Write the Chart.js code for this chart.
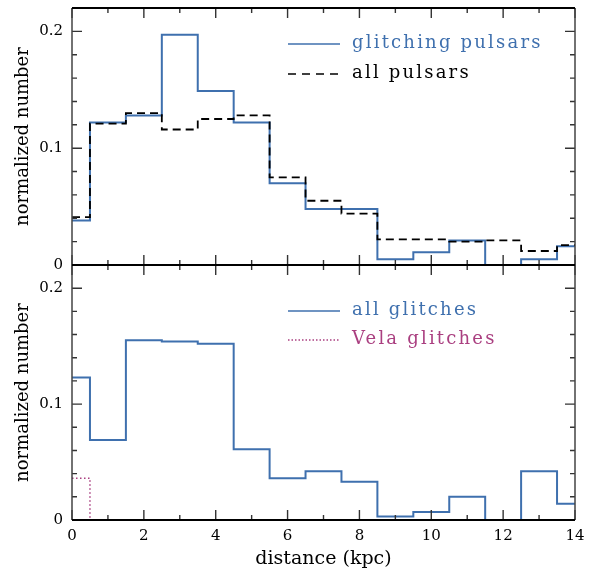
<!DOCTYPE html>
<html>
<head>
<meta charset="utf-8">
<script src="https://cdn.jsdelivr.net/npm/chart.js@4.4.1/dist/chart.umd.min.js"></script>
<style>
html,body{margin:0;padding:0;background:#fff;}
#wrap{position:relative;width:590px;height:570px;}
#topChart{position:absolute;left:0;top:0;}
#bottomChart{position:absolute;left:0;top:260px;}
</style>
</head>
<body>
<div id="wrap">
<canvas id="topChart" width="590" height="275"></canvas>
<canvas id="bottomChart" width="590" height="310"></canvas>
</div>
<script>
// histogram bin edges (kpc)
const binEdges = [0, 0.5, 1.5, 2.5, 3.5, 4.5, 5.5, 6.5, 7.5, 8.5, 9.5, 10.5, 11.5, 12.5, 13.5, 14];

// top panel
const glitchingPulsars = [0.038, 0.122, 0.128, 0.197, 0.149, 0.122, 0.070, 0.048, 0.048, 0.005, 0.011, 0.021, 0, 0.005, 0.016];
const allPulsars = [0.041, 0.121, 0.130, 0.116, 0.125, 0.128, 0.075, 0.055, 0.044, 0.022, 0.022, 0.020, 0.021, 0.012, 0.017];

// bottom panel
const allGlitches = [0.123, 0.069, 0.155, 0.154, 0.152, 0.061, 0.036, 0.042, 0.033, 0.003, 0.007, 0.020, 0, 0.042, 0.014];
const velaGlitches = [0.036, 0, 0, 0, 0, 0, 0, 0, 0, 0, 0, 0, 0, 0, 0];

const xTicks = [0, 2, 4, 6, 8, 10, 12, 14];
const yTicks = [0, 0.1, 0.2];

const BLUE = '#3f70ae';
const MAGENTA = '#aa3f80';
const FONT = 'DejaVu Serif';

function steps(values) {
    const pts = values.map((v, i) => ({x: binEdges[i], y: v}));
    pts.push({x: binEdges[binEdges.length - 1], y: values[values.length - 1]});
    return pts;
}

// inward tick marks on all four sides plus the frame
const framePlugin = {
    id: 'frame',
    afterDatasetsDraw(chart) {
        const {ctx, chartArea: a, scales: {x, y}} = chart;
        ctx.save();
        ctx.strokeStyle = '#333';
        ctx.lineWidth = 1.4;
        ctx.beginPath();
        for (let v = 0; v <= 14; v++) {
            const px = x.getPixelForValue(v);
            const len = v % 2 === 0 ? 10 : 5;
            ctx.moveTo(px, a.bottom); ctx.lineTo(px, a.bottom - len);
            ctx.moveTo(px, a.top); ctx.lineTo(px, a.top + len);
        }
        for (let k = 0; k <= 11; k++) {
            const py = y.getPixelForValue(k * 0.02);
            const len = k % 5 === 0 ? 10 : 5;
            ctx.moveTo(a.left, py); ctx.lineTo(a.left + len, py);
            ctx.moveTo(a.right, py); ctx.lineTo(a.right - len, py);
        }
        ctx.stroke();
        ctx.strokeStyle = '#444';
        ctx.lineWidth = 1.5;
        ctx.beginPath();
        ctx.moveTo(a.left, a.top); ctx.lineTo(a.left, a.bottom);
        ctx.moveTo(a.right, a.top); ctx.lineTo(a.right, a.bottom);
        ctx.stroke();
        ctx.strokeStyle = '#000';
        ctx.lineWidth = 2.2;
        ctx.beginPath();
        ctx.moveTo(a.left, a.top); ctx.lineTo(a.right, a.top);
        ctx.moveTo(a.left, a.bottom); ctx.lineTo(a.right, a.bottom);
        ctx.stroke();
        ctx.restore();
    }
};

// legend drawn inside the plot
const inLegend = {
    id: 'inLegend',
    afterDraw(chart, args, opts) {
        const ctx = chart.ctx;
        ctx.save();
        ctx.font = '18px "' + FONT + '"';
        ctx.letterSpacing = '2.2px';
        ctx.textBaseline = 'middle';
        opts.items.forEach((it, i) => {
            const yy = opts.y + i * opts.gap;
            ctx.strokeStyle = it.color;
            ctx.lineWidth = it.width;
            ctx.setLineDash(it.dash);
            ctx.beginPath();
            ctx.moveTo(opts.x, yy);
            ctx.lineTo(opts.x + 52, yy);
            ctx.stroke();
            ctx.fillStyle = it.color;
            ctx.fillText(it.text, opts.x + 64, yy - 1);
        });
        ctx.restore();
    }
};

function makeConfig(datasets, showX, pad, xHeight, legend) {
    return {
        type: 'line',
        data: {datasets: datasets},
        options: {
            responsive: false,
            animation: false,
            layout: {padding: pad},
            plugins: {
                legend: {display: false},
                tooltip: {enabled: false},
                inLegend: legend
            },
            elements: {point: {radius: 0}, line: {tension: 0}},
            scales: {
                x: {
                    type: 'linear',
                    min: 0,
                    max: 14,
                    grid: {display: false, drawTicks: false},
                    border: {display: false},
                    afterBuildTicks: s => { s.ticks = xTicks.map(v => ({value: v})); },
                    afterFit: s => {
                        s.height = xHeight;
                        s.paddingLeft = 0;
                        s.paddingRight = 0;
                    },
                    ticks: {
                        display: showX,
                        padding: 7,
                        color: '#000',
                        maxRotation: 0,
                        font: {family: FONT, size: 15}
                    },
                    title: {
                        display: showX,
                        text: 'distance (kpc)',
                        color: '#000',
                        padding: {top: 0, bottom: 0},
                        font: {family: FONT, size: 19}
                    }
                },
                y: {
                    min: 0,
                    max: 0.22,
                    grid: {display: false, drawTicks: false},
                    border: {display: false},
                    afterBuildTicks: s => { s.ticks = yTicks.map(v => ({value: v})); },
                    afterFit: s => {
                        s.width = 72;
                        s.paddingTop = 0;
                        s.paddingBottom = 0;
                    },
                    ticks: {
                        padding: 9,
                        color: '#000',
                        font: {family: FONT, size: 15},
                        callback: v => String(Math.round(v * 10) / 10)
                    },
                    title: {
                        display: true,
                        text: 'normalized number',
                        color: '#000',
                        padding: {top: 13, bottom: 0},
                        font: {family: FONT, size: 18}
                    }
                }
            }
        },
        plugins: [framePlugin, inLegend]
    };
}

const topSets = [
    {label: 'all pulsars', data: steps(allPulsars), stepped: true, borderColor: '#000',
        borderWidth: 1.8, borderDash: [8, 5], fill: false, clip: 4},
    {label: 'glitching pulsars', data: steps(glitchingPulsars), stepped: true, borderColor: BLUE,
        borderWidth: 2, fill: false, clip: 4}
];

const bottomSets = [
    {label: 'Vela glitches', data: steps(velaGlitches), stepped: true, borderColor: MAGENTA,
        borderWidth: 1.5, borderDash: [1.5, 2.5], fill: false, clip: 4},
    {label: 'all glitches', data: steps(allGlitches), stepped: true, borderColor: BLUE,
        borderWidth: 2, fill: false, clip: 4}
];

new Chart(document.getElementById('topChart'),
    makeConfig(topSets, false, {top: 8, right: 15, bottom: 10, left: 0}, 0, {
        x: 288, y: 44, gap: 30,
        items: [
            {text: 'glitching pulsars', color: BLUE, dash: [], width: 1.5},
            {text: 'all pulsars', color: '#000', dash: [8, 6], width: 1.5}
        ]
    }));

new Chart(document.getElementById('bottomChart'),
    makeConfig(bottomSets, true, {top: 5, right: 15, bottom: 0, left: 0}, 50, {
        x: 288, y: 51, gap: 29,
        items: [
            {text: 'all glitches', color: BLUE, dash: [], width: 1.5},
            {text: 'Vela glitches', color: MAGENTA, dash: [1.5, 2], width: 1.5}
        ]
    }));
</script>
</body>
</html>
